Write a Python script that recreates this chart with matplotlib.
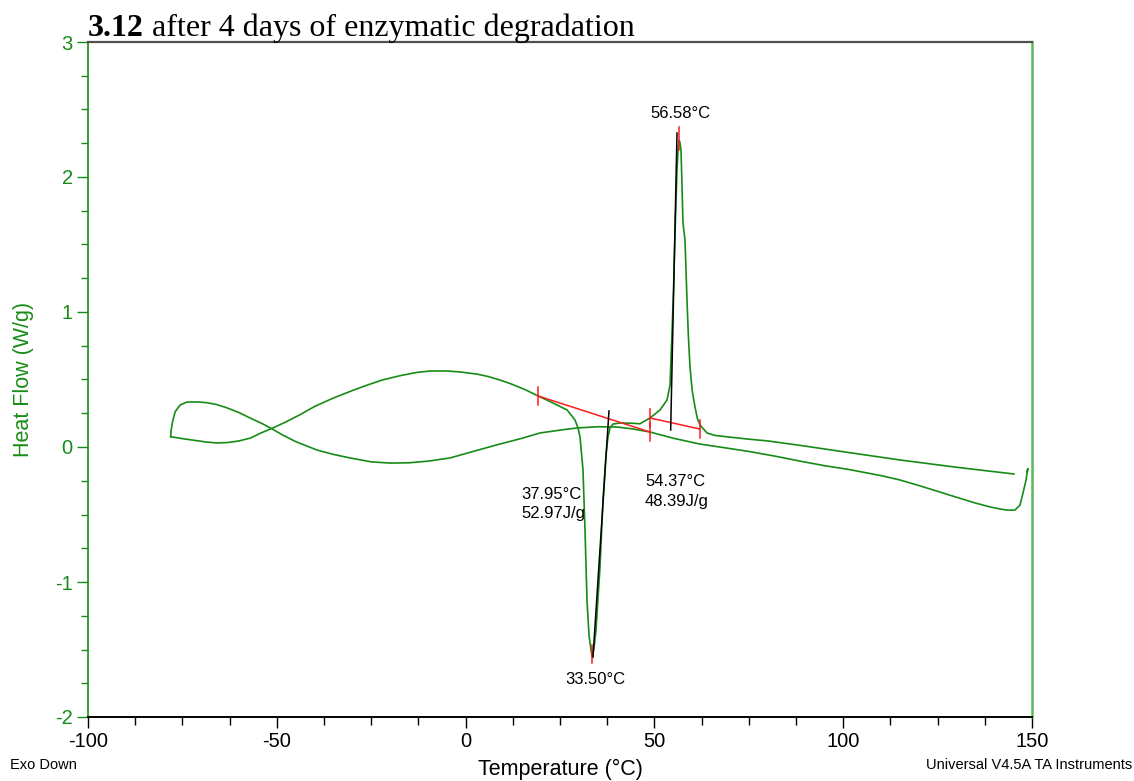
import matplotlib
matplotlib.use('Agg')
import matplotlib.pyplot as plt
from matplotlib.ticker import MultipleLocator

plt.rcParams['font.family'] = ['Liberation Sans', 'DejaVu Sans']
plt.rcParams['axes.unicode_minus'] = False

# heating run: -78 C up to 145 C (cold crystallisation dip, then melting)
heat_t = [-78.10, -75.0, -72.0, -69.0, -66.0, -63.0, -60.0, -57.0, -54.5, -51.3,
          -48.0, -44.0, -40.0, -35.0, -30.0, -26.0, -22.0, -17.4, -13.0, -9.4,
          -5.0, -1.5, 3.0, 6.0, 9.1, 12.0, 16.0, 19.2, 23.0, 26.9,
          28.97, 29.77, 30.30, 31.09, 31.62, 32.15, 32.68, 33.21, 33.50, 34.00,
          34.53, 35.59, 36.39, 37.18, 37.71, 38.24, 39.04, 40.89, 44.0, 46.19,
          48.83, 51.48, 53.34, 54.13, 54.66, 55.10, 55.46, 55.99, 56.30, 56.58,
          56.80, 57.04, 57.30, 57.57, 58.10, 58.63, 59.00, 59.43, 60.00, 60.75,
          61.40, 62.08, 63.93, 66.0, 70.0, 75.0, 80.0, 88.6, 100.0, 115.0,
          130.0, 145.23]
heat_hf = [0.076, 0.062, 0.050, 0.038, 0.030, 0.033, 0.045, 0.066, 0.100, 0.138,
           0.180, 0.237, 0.300, 0.363, 0.418, 0.459, 0.497, 0.528, 0.552, 0.563,
           0.563, 0.556, 0.540, 0.522, 0.496, 0.468, 0.422, 0.378, 0.328, 0.274,
           0.200, 0.141, 0.074, -0.170, -0.615, -1.133, -1.393, -1.504, -1.550, -1.489,
           -1.356, -0.889, -0.393, -0.059, 0.074, 0.141, 0.170, 0.178, 0.176, 0.172,
           0.215, 0.274, 0.348, 0.459, 0.844, 1.200, 1.585, 2.052, 2.220, 2.270,
           2.250, 2.200, 1.950, 1.659, 1.533, 1.089, 0.820, 0.593, 0.420, 0.296,
           0.210, 0.163, 0.104, 0.086, 0.073, 0.058, 0.045, 0.012, -0.035, -0.096,
           -0.150, -0.200]

# cooling run: 149 C back down to -78 C
cool_t = [148.68, 148.90, 148.42, 147.62, 146.82, 145.50, 143.50, 141.53, 138.88,
          135.0, 130.0, 120.0, 115.0, 110.0, 101.8, 95.0, 88.6, 82.0, 75.0,
          68.0, 62.0, 55.0, 48.83, 44.0, 40.0, 35.0, 29.5, 25.0, 19.7,
          15.0, 9.1, 3.0, -4.1, -10.0, -15.0, -20.0, -25.0, -30.6, -35.0,
          -39.4, -45.0, -48.4, -51.3, -54.0, -57.1, -60.0, -63.2, -66.0, -68.5,
          -71.0, -73.8, -75.6, -76.9, -77.6, -78.0, -78.10]
cool_hf = [-0.185, -0.160, -0.244, -0.341, -0.430, -0.467, -0.468, -0.459, -0.444,
           -0.415, -0.372, -0.285, -0.244, -0.212, -0.168, -0.138, -0.105, -0.068, -0.033,
           -0.003, 0.022, 0.065, 0.111, 0.135, 0.148, 0.150, 0.141, 0.125, 0.104,
           0.065, 0.022, -0.025, -0.081, -0.105, -0.117, -0.119, -0.110, -0.081, -0.055,
           -0.022, 0.040, 0.088, 0.135, 0.175, 0.215, 0.255, 0.290, 0.315, 0.328,
           0.334, 0.333, 0.311, 0.262, 0.190, 0.120, 0.076]

# integration baselines and onset tangents
cryst_base_t = [19.17, 48.83]
cryst_base_hf = [0.378, 0.111]
melt_base_t = [48.83, 62.08]
melt_base_hf = [0.215, 0.133]
cryst_tan_t = [33.74, 37.97]
cryst_tan_hf = [-1.556, 0.267]
melt_tan_t = [54.31, 55.99]
melt_tan_hf = [0.126, 2.326]

cryst_peak = 33.50
melt_peak = 56.58
cryst_onset, cryst_area = 37.95, 52.97
melt_onset, melt_area = 54.37, 48.39

GREEN = '#168c16'
RED = '#ff1a1a'

fig = plt.figure(figsize=(11.34, 7.81), dpi=100)
ax = fig.add_axes([88 / 1134, 1 - 717 / 781, (1032 - 88) / 1134, (717 - 42) / 781])

ax.plot(heat_t, heat_hf, color=GREEN, lw=1.2)
ax.plot(cool_t, cool_hf, color=GREEN, lw=1.2)

ax.plot(cryst_base_t, cryst_base_hf, color=RED, lw=1.1)
ax.plot(melt_base_t, melt_base_hf, color=RED, lw=1.1)
for t, hf in zip(cryst_base_t + melt_base_t, cryst_base_hf + melt_base_hf):
    ax.plot([t, t], [hf - 0.065, hf + 0.065], color=RED, lw=1.1)
ax.plot([melt_peak, melt_peak], [2.20, 2.37], color=RED, lw=1.1)
ax.plot([cryst_peak, cryst_peak], [-1.47, -1.60], color=RED, lw=1.1)

ax.plot(cryst_tan_t, cryst_tan_hf, color='black', lw=1.1)
ax.plot(melt_tan_t, melt_tan_hf, color='black', lw=1.1)

fs = 12
ax.text(melt_peak + 0.4, 2.474, f'{melt_peak:.2f}°C', fontsize=fs, ha='center', va='center')
ax.text(cryst_peak + 1.0, -1.719, f'{cryst_peak:.2f}°C', fontsize=fs, ha='center', va='center')
ax.text(14.67, -0.425, f'{cryst_onset:.2f}°C\n{cryst_area:.2f}J/g', fontsize=fs,
        ha='left', va='center', linespacing=1.35)
ax.text(47.51, -0.330, f'{melt_onset:.2f}°C\n{melt_area:.2f}J/g', fontsize=fs,
        ha='left', va='center', linespacing=1.35)

ax.set_xlim(-100, 150)
ax.set_ylim(-2, 3)
ax.xaxis.set_major_locator(MultipleLocator(50))
ax.xaxis.set_minor_locator(MultipleLocator(12.5))
ax.yaxis.set_major_locator(MultipleLocator(1))
ax.yaxis.set_minor_locator(MultipleLocator(0.25))

ax.tick_params(axis='x', which='major', direction='out', length=8, width=1,
               colors='black', labelsize=14.5, pad=3)
ax.tick_params(axis='x', which='minor', direction='out', length=6, width=1, colors='black')
ax.tick_params(axis='y', which='major', direction='out', length=8, width=1,
               colors=GREEN, labelsize=14.5, pad=3)
ax.tick_params(axis='y', which='minor', direction='out', length=5, width=1, colors=GREEN)

ax.spines['left'].set_color(GREEN)
ax.spines['left'].set_linewidth(1.2)
ax.spines['right'].set_color('#5cb85c')
ax.spines['right'].set_linewidth(1.8)
ax.spines['top'].set_color('#505050')
ax.spines['top'].set_linewidth(1.6)
ax.spines['bottom'].set_color('black')
ax.spines['bottom'].set_linewidth(1.4)

ax.set_xlabel('Temperature (°C)', fontsize=15.5, va='center')
ax.xaxis.set_label_coords(0.5, -52 / 675)
ax.set_ylabel('Heat Flow (W/g)', fontsize=15.5, color=GREEN, va='center')
ax.yaxis.set_label_coords(-64 / 944, 0.5)

fig.text(10 / 1134, 1 - 765 / 781, 'Exo Down', fontsize=10.5, ha='left', va='center')
fig.text(1132 / 1134, 1 - 765 / 781, 'Universal V4.5A TA Instruments', fontsize=10.5,
         ha='right', va='center')

# title: bold run number followed by regular text
t1 = fig.text(88 / 1134, 1 - 36 / 781, '3.12', fontsize=23, fontweight='bold',
              family='Liberation Serif', ha='left', va='baseline')
renderer = fig.canvas.get_renderer()
bb = t1.get_window_extent(renderer)
fig.text(bb.x1 / fig.bbox.width, 1 - 36 / 781, ' after 4 days of enzymatic degradation',
         fontsize=23, family='Liberation Serif', ha='left', va='baseline')

fig.savefig('out.png', dpi=100)
